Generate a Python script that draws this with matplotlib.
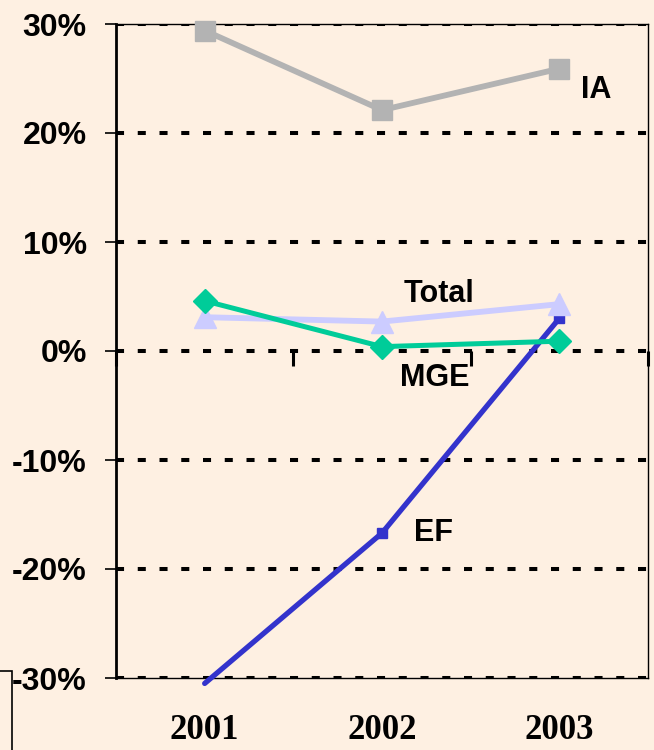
import matplotlib
matplotlib.use("Agg")
import matplotlib.pyplot as plt
from matplotlib.ticker import FuncFormatter
from matplotlib.patches import Rectangle

years = ["2001", "2002", "2003"]
ia = [29.4, 22.1, 25.9]
total = [3.1, 2.7, 4.3]
mge = [4.6, 0.4, 0.9]
ef = [-30.5, -16.7, 3.0]
yticks = [-30, -20, -10, 0, 10, 20, 30]

bg = "#FEF0E2"
fig = plt.figure(figsize=(6.54, 7.5), dpi=100, facecolor=bg)
ax = fig.add_axes([116/654, 1-678/750, 532/654, 654/750])
ax.set_facecolor(bg)

x = list(range(len(years)))
sans = "Liberation Sans"
serif = "Liberation Serif"

# gridlines
for yv in yticks:
    ax.axhline(yv, color="black", lw=2.9, dashes=(2.0, 3.4), zorder=2)

ax.plot(x, ia, color="#B3B3B3", lw=4.2, marker="s", ms=15, mec="#B3B3B3", mfc="#B3B3B3", zorder=3, clip_on=False)
ax.plot(x, ef, color="#3333CC", lw=3.8, marker="s", ms=6.5, markevery=[1, 2], zorder=4, clip_on=False, solid_capstyle="round")
ax.plot(x, total, color="#CCCCFF", lw=4.2, marker="^", ms=16, zorder=5, clip_on=False)
ax.plot(x, mge, color="#00CC99", lw=3.6, marker="D", ms=12, zorder=6, clip_on=False)

ax.set_xlim(-0.5, 2.5)
ax.set_ylim(-30, 30)
ax.set_yticks(yticks)
ax.yaxis.set_major_formatter(FuncFormatter(lambda v, p: f"{int(v)}%"))
ax.set_xticks(x)
ax.set_xticklabels(years)

for lab in ax.get_yticklabels():
    lab.set_fontfamily(sans)
    lab.set_fontweight("bold")
    lab.set_fontsize(23)
for lab in ax.get_xticklabels():
    lab.set_fontfamily(serif)
    lab.set_fontweight("bold")
    lab.set_fontsize(25)

ax.tick_params(axis="y", direction="out", length=8, width=1.2, pad=13, colors="black")
ax.tick_params(axis="x", length=0, pad=26)

for s in ["top", "bottom", "right"]:
    ax.spines[s].set_linewidth(1.0)
    ax.spines[s].set_color("black")
ax.spines["left"].set_linewidth(2.0)
ax.spines["left"].set_zorder(7)

# category axis crossing at zero with boundary ticks
sec = ax.secondary_xaxis(0.5)
sec.set_xticks([-0.5, 0.5, 1.5, 2.5])
sec.set_xticklabels([])
for sp in sec.spines.values():
    sp.set_visible(False)
sec.tick_params(axis="x", direction="in", length=11, width=2.2, colors="black")

# labels
lbl = dict(fontfamily=sans, fontweight="bold", fontsize=22, ha="center", va="center", zorder=8)
ax.text(2.21, 23.9, "IA", **lbl)
ax.text(1.32, 5.2, "Total", **lbl)
ax.text(1.30, -2.5, "MGE", **lbl)
ax.text(1.29, -16.7, "EF", **lbl)

# partial box at lower left
fig.add_artist(Rectangle((-0.05, -0.1), 12/654 + 0.05, (750-671)/750 + 0.1,
                         transform=fig.transFigure, fill=False, ec="black", lw=1.2))

fig.savefig("out.png", dpi=100, facecolor=bg)
